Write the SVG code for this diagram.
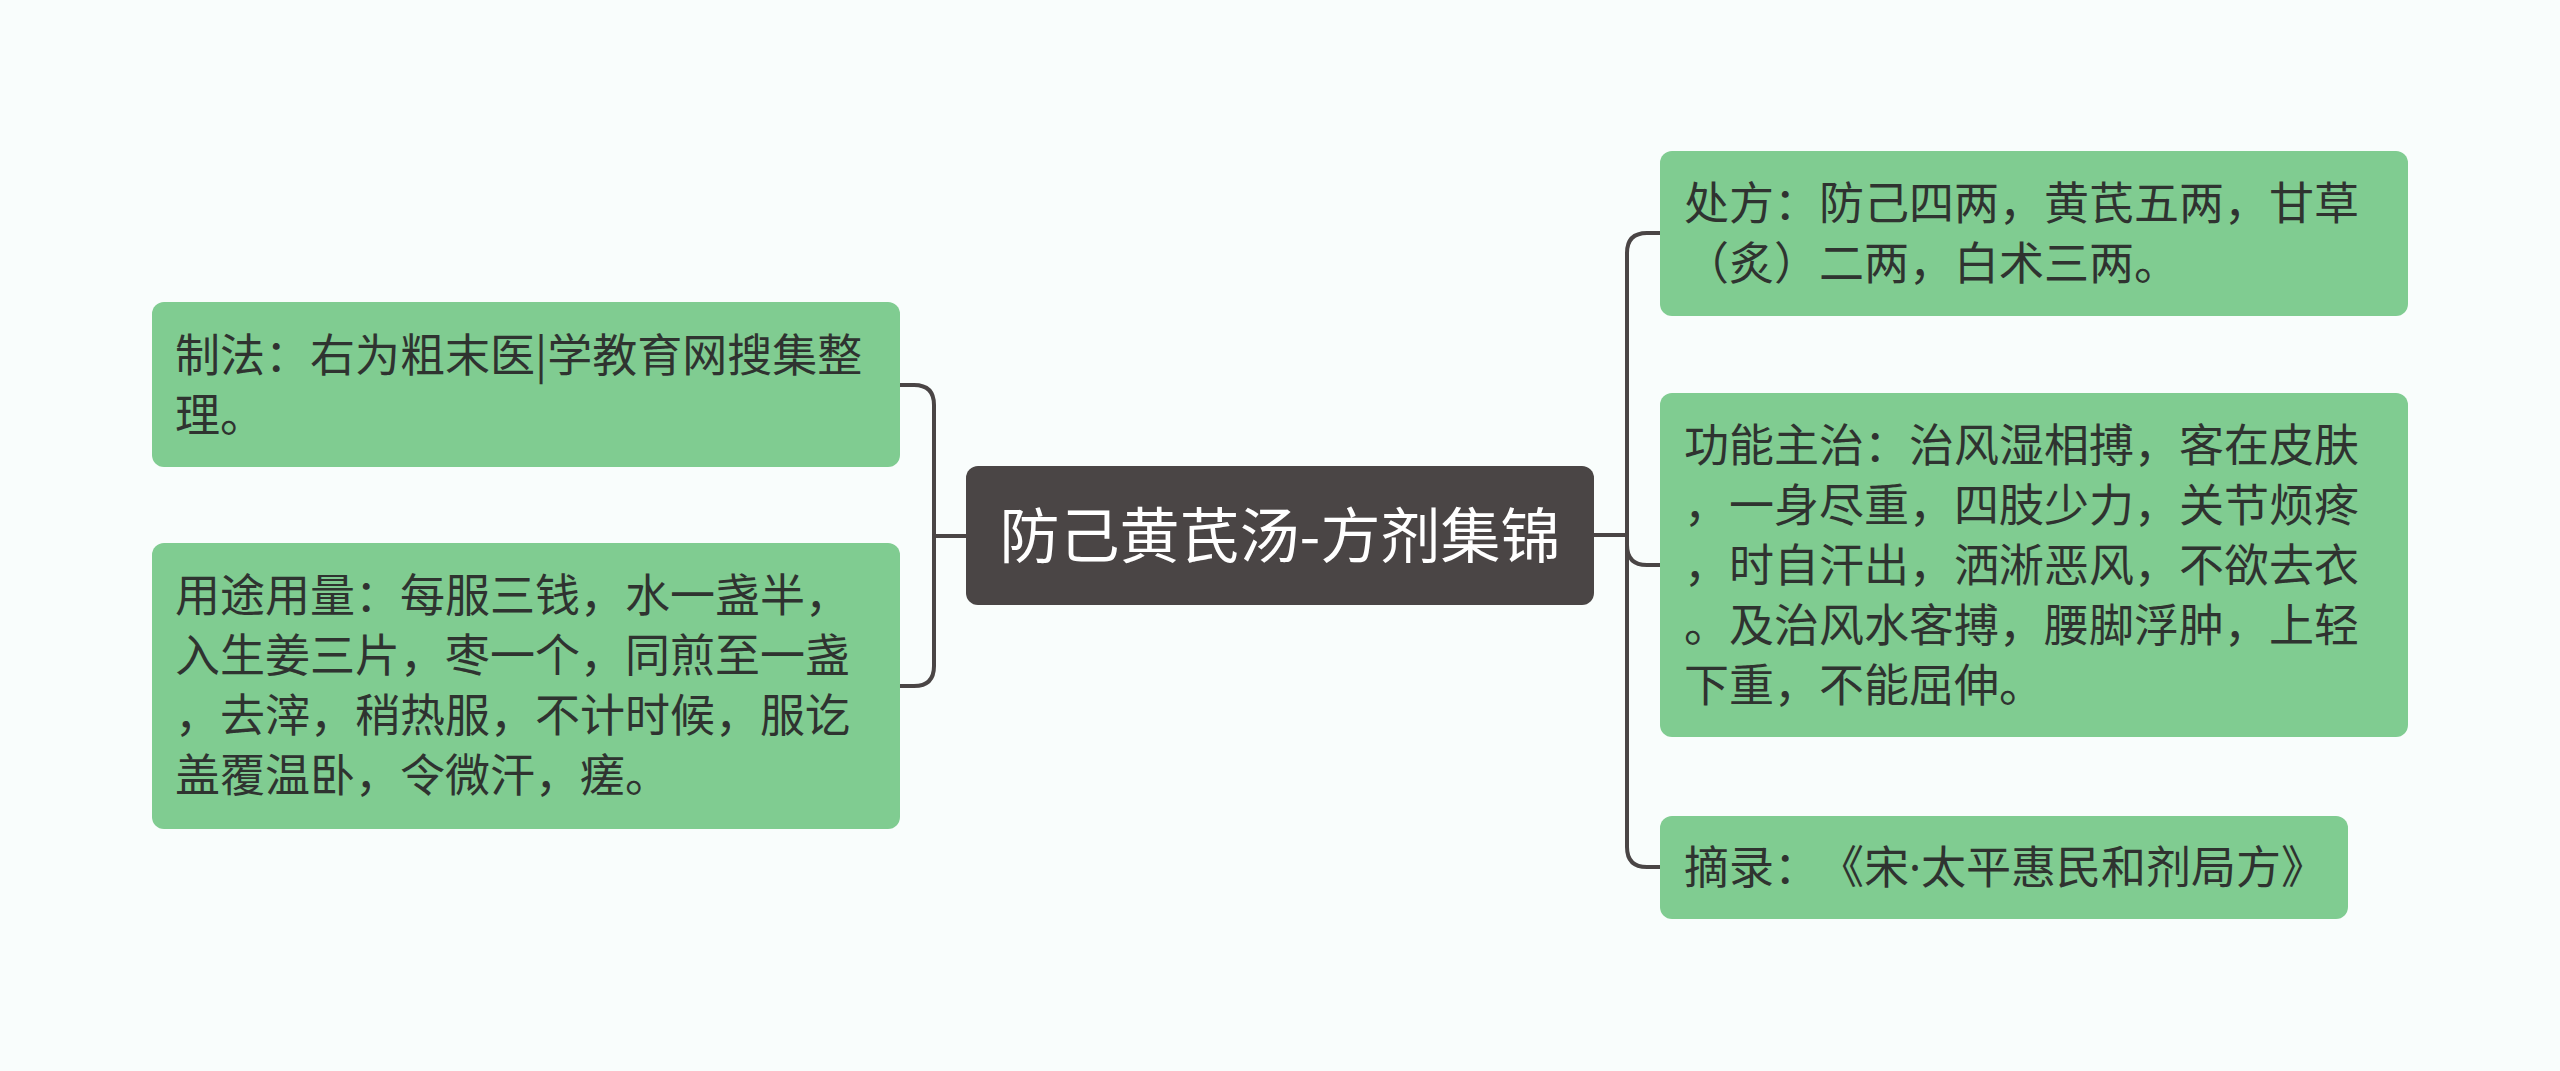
<svg xmlns="http://www.w3.org/2000/svg" width="2560" height="1071" viewBox="0 0 2560 1071">
<style>
.bg{fill:#F9FDFC}
.leaf{fill:#80CC91}
.root{fill:#4A4545}
.t{font-family:"Noto Sans CJK SC","Noto Sans",sans-serif;font-size:45px;fill:#2F3330;text-spacing-trim:space-all}
.rt{font-family:"Noto Sans CJK SC","Noto Sans",sans-serif;font-size:60px;fill:#FFFFFF;text-anchor:middle}
.lat{font-family:"Noto Sans",sans-serif}
.c{fill:none;stroke:#4A4545;stroke-width:4;stroke-linecap:round;stroke-linejoin:round}
</style>
<rect class="bg" x="0" y="0" width="2560" height="1071"/>
<g id="connectors">
<path class="c" d="M966,536 H934 V405 Q934,385 914,385 H900"/>
<path class="c" d="M966,536 H934 V666 Q934,686 914,686 H900"/>
<path class="c" d="M1594,535 H1627 V253 Q1627,233 1647,233 H1660"/>
<path class="c" d="M1594,535 H1627 V545 Q1627,565 1647,565 H1660"/>
<path class="c" d="M1594,535 H1627 V847 Q1627,867 1647,867 H1660"/>
</g>
<g id="root">
<rect class="root" x="966" y="466" width="628" height="139" rx="12"/>
<text class="rt" x="1280" y="558">防己黄芪汤-方剂集锦</text>
</g>
<g id="zhifa">
<rect class="leaf" x="152" y="302" width="748" height="165" rx="12"/>
<text class="t" x="175" y="372">制法：右为粗末医|学教育网搜集整</text>
<text class="t" x="175" y="432">理。</text>
</g>
<g id="yongtu">
<rect class="leaf" x="152" y="543" width="748" height="286" rx="12"/>
<text class="t" x="175" y="612">用途用量：每服三钱，水一盏半，</text>
<text class="t" x="175" y="672">入生姜三片，枣一个，同煎至一盏</text>
<text class="t" x="175" y="732">，去滓，稍热服，不计时候，服讫</text>
<text class="t" x="175" y="792">盖覆温卧，令微汗，瘥。</text>
</g>
<g id="chufang">
<rect class="leaf" x="1660" y="151" width="748" height="165" rx="12"/>
<text class="t" x="1684" y="220">处方：防己四两，黄芪五两，甘草</text>
<text class="t" x="1684" y="280">（炙）二两，白术三两。</text>
</g>
<g id="gongneng">
<rect class="leaf" x="1660" y="393" width="748" height="344" rx="12"/>
<text class="t" x="1684" y="462">功能主治：治风湿相搏，客在皮肤</text>
<text class="t" x="1684" y="522">，一身尽重，四肢少力，关节烦疼</text>
<text class="t" x="1684" y="582">，时自汗出，洒淅恶风，不欲去衣</text>
<text class="t" x="1684" y="642">。及治风水客搏，腰脚浮肿，上轻</text>
<text class="t" x="1684" y="702">下重，不能屈伸。</text>
</g>
<g id="zhailu">
<rect class="leaf" x="1660" y="816" width="688" height="103" rx="12"/>
<text class="t" x="1684" y="884">摘录：《宋<tspan class="lat">·</tspan>太平惠民和剂局方》</text>
</g>
</svg>
